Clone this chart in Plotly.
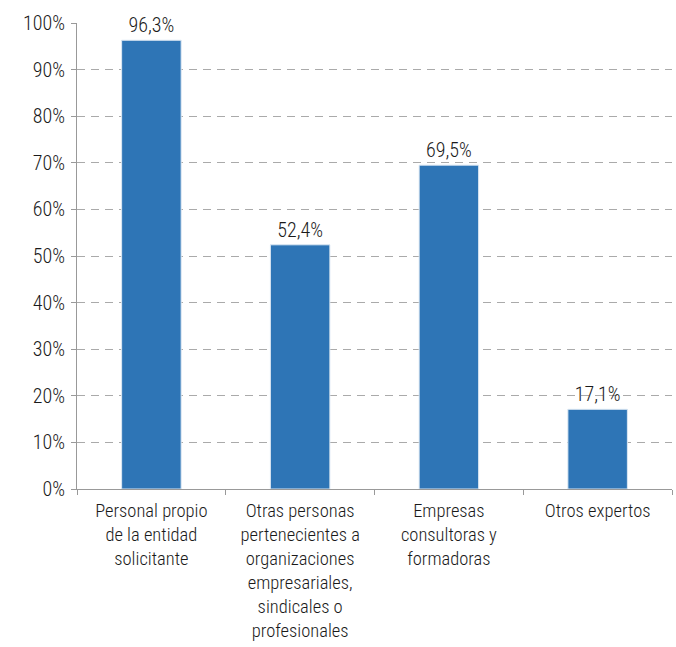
import plotly.graph_objects as go

categories = [
    "Personal propio<br>de la entidad<br>solicitante",
    "Otras personas<br>pertenecientes a<br>organizaciones<br>empresariales,<br>sindicales o<br>profesionales",
    "Empresas<br>consultoras y<br>formadoras",
    "Otros expertos",
]
values = [96.3, 52.4, 69.5, 17.1]
y_ticks = list(range(0, 101, 10))
y_tick_labels = [f"{v}%" for v in y_ticks]

font_family = "Roboto Condensed, Liberation Sans Narrow, Arial Narrow, sans-serif"
text_font = dict(size=20, color="#1a1a1a", family=font_family, weight=300)
cat_font = dict(size=18.5, color="#1a1a1a", family=font_family, weight=300)

fig = go.Figure(
    go.Bar(
        x=categories,
        y=values,
        marker=dict(color="#2E75B6", line=dict(color="#DDE8F3", width=1)),
        text=[f"{v:.1f}%".replace(".", ",") for v in values],
        textposition="outside",
        textfont=text_font,
        cliponaxis=False,
        width=0.4,
    )
)

fig.update_layout(
    width=676,
    height=647,
    margin=dict(l=77, r=4, t=23, b=158),
    plot_bgcolor="white",
    paper_bgcolor="white",
    font=text_font,
    showlegend=False,
    bargap=0.6,
)

fig.update_xaxes(
    automargin=False,
    showline=True,
    linecolor="#999999",
    linewidth=1,
    ticks="outside",
    tickson="boundaries",
    ticklen=5,
    tickcolor="#999999",
    showgrid=False,
    tickfont=cat_font,
    ticklabelstandoff=5,
)

fig.update_yaxes(
    automargin=False,
    range=[0, 100],
    tickvals=y_ticks,
    ticktext=y_tick_labels,
    showline=True,
    linecolor="#999999",
    linewidth=1,
    ticks="outside",
    ticklen=5,
    tickcolor="#999999",
    showgrid=True,
    gridcolor="#AAAAAA",
    griddash="8px,6px",
    gridwidth=1,
    zeroline=False,
    tickfont=text_font,
    ticklabelstandoff=2,
)

fig.write_html("out.html")
